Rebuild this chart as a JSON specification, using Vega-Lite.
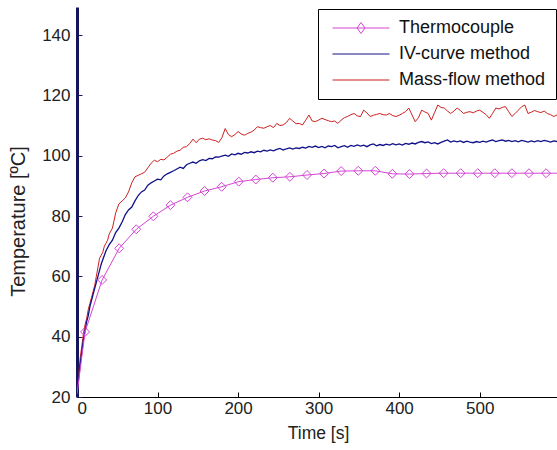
{
  "$schema": "https://vega.github.io/schema/vega-lite/v6.json",
  "width": 480,
  "height": 390,
  "autosize": {"type": "none"},
  "padding": {"left": 77, "top": 7, "right": 0, "bottom": 53},
  "background": "white",
  "config": {
    "view": {"stroke": null},
    "font": "Liberation Sans",
    "axis": {"grid": false, "labelFont": "Liberation Sans", "titleFont": "Liberation Sans", "titleFontWeight": "normal", "labelColor": "#222222", "titleColor": "#222222"}
  },
  "datasets": {
    "tc": [
      {"t":0,"v":21},{"t":10,"v":41.6},{"t":31.2,"v":58.8},{"t":52.4,"v":69.3},{"t":73.6,"v":75.6},{"t":94.8,"v":79.9},{"t":116,"v":83.6},{"t":137.2,"v":86.2},{"t":158.4,"v":88.3},{"t":179.6,"v":89.7},{"t":200.8,"v":91.4},{"t":222,"v":92.1},{"t":243.2,"v":92.7},{"t":264.4,"v":93},{"t":285.6,"v":93.6},{"t":306.8,"v":94.1},{"t":328,"v":94.9},{"t":349.2,"v":95},{"t":370.4,"v":95},{"t":391.6,"v":94},{"t":412.8,"v":93.9},{"t":434,"v":94.1},{"t":455.2,"v":94.2},{"t":476.4,"v":94.2},{"t":497.6,"v":94.2},{"t":518.8,"v":94.2},{"t":540,"v":94.2},{"t":561.2,"v":94.2},{"t":582.4,"v":94.2},{"t":603.6,"v":94.2}
    ],
    "iv": [
      {"t":0,"v":20},{"t":2,"v":26},{"t":4,"v":31},{"t":6,"v":35},{"t":8,"v":39},{"t":10,"v":42},{"t":12,"v":45},{"t":14,"v":47},{"t":16,"v":50},{"t":18,"v":52},{"t":20,"v":54},{"t":22,"v":56},{"t":24,"v":58},{"t":26,"v":60},{"t":28,"v":62},{"t":30,"v":64},{"t":32,"v":65.5},{"t":34,"v":67},{"t":36,"v":68.5},{"t":38,"v":69.5},{"t":40,"v":70.5},{"t":44,"v":72},{"t":48,"v":74.5},{"t":52,"v":76},{"t":56,"v":78},{"t":60,"v":80.5},{"t":64,"v":82},{"t":68,"v":83},{"t":72,"v":85},{"t":76,"v":86.8},{"t":80,"v":88},{"t":84,"v":88.6},{"t":88,"v":90.2},{"t":92,"v":91},{"t":96,"v":91.6},{"t":100,"v":92.2},{"t":104,"v":92},{"t":108,"v":93.3},{"t":112,"v":94},{"t":116,"v":94.5},{"t":120,"v":95},{"t":124,"v":95.6},{"t":128,"v":96.2},{"t":132,"v":95.8},{"t":136,"v":97},{"t":140,"v":97.5},{"t":144,"v":97.9},{"t":148,"v":97.5},{"t":152,"v":98.3},{"t":156,"v":98.7},{"t":160,"v":98.4},{"t":164,"v":99.1},{"t":168,"v":99},{"t":172,"v":99.6},{"t":176,"v":99.5},{"t":180,"v":99.9},{"t":184,"v":100.2},{"t":188,"v":99.8},{"t":192,"v":100.6},{"t":196,"v":100.3},{"t":200,"v":100.8},{"t":204,"v":100.5},{"t":208,"v":101.1},{"t":212,"v":100.9},{"t":216,"v":101.3},{"t":220,"v":101},{"t":224,"v":101.5},{"t":228,"v":101.3},{"t":232,"v":101.8},{"t":236,"v":101.5},{"t":240,"v":101.9},{"t":244,"v":101.6},{"t":248,"v":102.1},{"t":252,"v":102.4},{"t":256,"v":101.9},{"t":260,"v":102.3},{"t":264,"v":102.6},{"t":268,"v":102.2},{"t":272,"v":102.6},{"t":276,"v":102.4},{"t":280,"v":102.8},{"t":284,"v":102.5},{"t":288,"v":103.1},{"t":292,"v":102.8},{"t":296,"v":103.2},{"t":300,"v":102.7},{"t":304,"v":103.1},{"t":308,"v":102.6},{"t":312,"v":103.2},{"t":316,"v":103},{"t":320,"v":103.4},{"t":324,"v":102.6},{"t":328,"v":103},{"t":332,"v":103.3},{"t":336,"v":102.8},{"t":340,"v":103.4},{"t":344,"v":103.1},{"t":348,"v":103.6},{"t":352,"v":103.2},{"t":356,"v":103.5},{"t":360,"v":103},{"t":364,"v":103.6},{"t":368,"v":103.9},{"t":372,"v":103.3},{"t":376,"v":103.7},{"t":380,"v":103.4},{"t":384,"v":103.8},{"t":388,"v":103.5},{"t":392,"v":104},{"t":396,"v":103.6},{"t":400,"v":103.9},{"t":404,"v":103.5},{"t":408,"v":104.1},{"t":412,"v":103.8},{"t":416,"v":104.2},{"t":420,"v":103.9},{"t":424,"v":104.4},{"t":428,"v":104.7},{"t":432,"v":104.3},{"t":436,"v":104.6},{"t":440,"v":104},{"t":444,"v":104.3},{"t":448,"v":103.9},{"t":452,"v":104.4},{"t":456,"v":104.8},{"t":460,"v":105.2},{"t":464,"v":104.5},{"t":468,"v":104.9},{"t":472,"v":104.6},{"t":476,"v":104.9},{"t":480,"v":104.4},{"t":484,"v":104.8},{"t":488,"v":104.5},{"t":492,"v":104.3},{"t":496,"v":104.7},{"t":500,"v":104.4},{"t":504,"v":104.8},{"t":508,"v":104.5},{"t":512,"v":104.9},{"t":516,"v":105.2},{"t":520,"v":104.7},{"t":524,"v":105},{"t":528,"v":105.2},{"t":532,"v":104.8},{"t":536,"v":105.1},{"t":540,"v":104.7},{"t":544,"v":105},{"t":548,"v":104.6},{"t":552,"v":105.1},{"t":556,"v":104.8},{"t":560,"v":104.5},{"t":564,"v":104.9},{"t":568,"v":104.6},{"t":572,"v":105},{"t":576,"v":104.7},{"t":580,"v":105.1},{"t":584,"v":104.8},{"t":588,"v":104.5},{"t":592,"v":104.9},{"t":596,"v":104.7},{"t":600,"v":104.9}
    ],
    "mf": [
      {"t":0,"v":20},{"t":2,"v":27},{"t":4,"v":33},{"t":6,"v":37},{"t":8,"v":41},{"t":10,"v":44},{"t":12,"v":46},{"t":14,"v":49},{"t":16,"v":51},{"t":18,"v":53},{"t":20,"v":55},{"t":22,"v":57},{"t":24,"v":60},{"t":26,"v":63},{"t":28,"v":66},{"t":30,"v":67},{"t":32,"v":68},{"t":34,"v":70},{"t":36,"v":71},{"t":38,"v":72},{"t":40,"v":74},{"t":44,"v":76},{"t":48,"v":81},{"t":52,"v":84},{"t":56,"v":85},{"t":60,"v":86},{"t":64,"v":88},{"t":68,"v":91},{"t":72,"v":93},{"t":76,"v":93.5},{"t":80,"v":94},{"t":84,"v":94.5},{"t":88,"v":96},{"t":92,"v":97.5},{"t":96,"v":98.5},{"t":100,"v":98},{"t":104,"v":98.8},{"t":108,"v":98.6},{"t":112,"v":99.5},{"t":116,"v":100.5},{"t":120,"v":100.8},{"t":124,"v":101.5},{"t":128,"v":101.8},{"t":132,"v":102.8},{"t":136,"v":103},{"t":140,"v":104},{"t":144,"v":105.5},{"t":148,"v":104.3},{"t":152,"v":105.5},{"t":156,"v":105.8},{"t":160,"v":105.3},{"t":164,"v":105.6},{"t":168,"v":105.2},{"t":172,"v":105},{"t":176,"v":104.4},{"t":180,"v":106},{"t":184,"v":109},{"t":188,"v":107},{"t":192,"v":106.3},{"t":196,"v":107},{"t":200,"v":108},{"t":204,"v":107.2},{"t":208,"v":106.8},{"t":212,"v":107.4},{"t":216,"v":107.8},{"t":220,"v":108.5},{"t":224,"v":109.6},{"t":228,"v":109.3},{"t":232,"v":109.1},{"t":236,"v":109.6},{"t":240,"v":110},{"t":244,"v":109.3},{"t":248,"v":110.7},{"t":252,"v":110},{"t":256,"v":110.2},{"t":260,"v":111},{"t":264,"v":112.4},{"t":268,"v":111.5},{"t":272,"v":110.6},{"t":276,"v":110.7},{"t":280,"v":110.2},{"t":284,"v":111.8},{"t":288,"v":113.5},{"t":292,"v":111.5},{"t":296,"v":111.3},{"t":300,"v":111.8},{"t":304,"v":112.4},{"t":308,"v":112},{"t":312,"v":111.6},{"t":316,"v":111.3},{"t":320,"v":111.5},{"t":324,"v":110.7},{"t":328,"v":111.8},{"t":332,"v":112.6},{"t":336,"v":113},{"t":340,"v":113.6},{"t":344,"v":114},{"t":348,"v":113.2},{"t":352,"v":113},{"t":356,"v":115.1},{"t":360,"v":114.2},{"t":364,"v":113},{"t":368,"v":113.4},{"t":372,"v":113.7},{"t":376,"v":114},{"t":380,"v":113.6},{"t":384,"v":113.5},{"t":388,"v":114},{"t":392,"v":113.3},{"t":396,"v":113},{"t":400,"v":113.4},{"t":404,"v":114},{"t":408,"v":114.6},{"t":412,"v":115.8},{"t":416,"v":113.5},{"t":420,"v":111.3},{"t":424,"v":112.6},{"t":428,"v":115.1},{"t":432,"v":114.5},{"t":436,"v":114},{"t":440,"v":111.8},{"t":444,"v":114.3},{"t":448,"v":116.8},{"t":452,"v":116},{"t":456,"v":115.8},{"t":460,"v":114.8},{"t":464,"v":114},{"t":468,"v":114.8},{"t":472,"v":115.8},{"t":476,"v":115},{"t":480,"v":114},{"t":484,"v":114.4},{"t":488,"v":114.6},{"t":492,"v":114.2},{"t":496,"v":114.8},{"t":500,"v":115.1},{"t":504,"v":114.4},{"t":508,"v":113.6},{"t":512,"v":112.4},{"t":516,"v":114},{"t":520,"v":115.8},{"t":524,"v":115.5},{"t":528,"v":116},{"t":532,"v":116.3},{"t":536,"v":114.6},{"t":540,"v":113},{"t":544,"v":114},{"t":548,"v":115.1},{"t":552,"v":116.2},{"t":556,"v":116.8},{"t":560,"v":114},{"t":564,"v":114.4},{"t":568,"v":115},{"t":572,"v":114.6},{"t":576,"v":114.3},{"t":580,"v":114.8},{"t":584,"v":114},{"t":588,"v":113.6},{"t":592,"v":113},{"t":596,"v":113.5},{"t":600,"v":113.8}
    ]
  },
  "encoding": {
    "x": {"field": "t", "type": "quantitative", "scale": {"domain": [0, 596], "nice": false, "zero": false},
      "axis": {"values": [0, 100, 200, 300, 400, 500], "tickSize": -5, "tickColor": "#000000", "domainColor": "#000000", "domainWidth": 1, "labelFontSize": 17, "labelPadding": 8, "title": "Time [s]", "titleFontSize": 17.5, "titleX": 241, "titleY": 36, "titleBaseline": "middle"}},
    "y": {"field": "v", "type": "quantitative", "scale": {"domain": [20, 149.3], "nice": false, "zero": false},
      "axis": {"values": [20, 40, 60, 80, 100, 120, 140], "tickSize": -5, "tickColor": "#1a1a5e", "domainColor": "#14145a", "domainWidth": 3, "labelFontSize": 17, "labelPadding": 12, "title": "Temperature [ºC]", "titleFontSize": 20, "titleX": -59, "titleY": 214, "titleAngle": -90, "titleAlign": "center", "titleBaseline": "middle"}},
    "color": {
      "type": "nominal",
      "scale": {"domain": ["Thermocouple", "IV-curve method", "Mass-flow method"], "range": ["#d444d4", "#10108a", "#cc2020"]},
      "legend": {
        "title": null,
        "orient": "none",
        "legendX": 241,
        "legendY": 2,
        "padding": 10,
        "strokeColor": "#000000",
        "fillColor": "#ffffff",
        "labelFont": "Liberation Sans",
        "labelFontSize": 18,
        "labelColor": "#111111",
        "symbolSize": 100,
        "symbolOffset": 24,
        "labelOffset": 29,
        "rowPadding": 8,
        "symbolStrokeWidth": 1,
        "encode": {
          "symbols": {
            "update": {
              "shape": {"signal": "datum.value === 'Thermocouple' ? 'M-5.7,0H5.7M0,-1.1L0.8,0L0,1.1L-0.8,0Z' : 'M-5.7,0H5.7'"},
              "fill": {"value": "transparent"},
              "strokeWidth": {"value": 1}
            }
          }
        }
      }
    }
  },
  "layer": [
    {"data": {"name": "mf"}, "mark": {"type": "line", "strokeWidth": 1, "clip": true}, "encoding": {"color": {"datum": "Mass-flow method"}}},
    {"data": {"name": "iv"}, "mark": {"type": "line", "strokeWidth": 1.3, "clip": true}, "encoding": {"color": {"datum": "IV-curve method"}}},
    {"data": {"name": "tc"}, "mark": {"type": "line", "strokeWidth": 1, "clip": true}, "encoding": {"color": {"datum": "Thermocouple"}}},
    {"data": {"name": "tc"}, "transform": [{"filter": "datum.t > 0"}], "mark": {"type": "point", "shape": "diamond", "size": 80, "filled": false, "strokeWidth": 1, "opacity": 1, "clip": true}, "encoding": {"color": {"datum": "Thermocouple"}}}
  ]
}
